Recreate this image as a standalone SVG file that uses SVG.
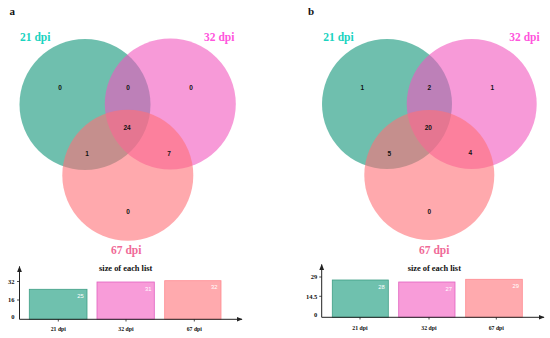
<svg xmlns="http://www.w3.org/2000/svg" width="550" height="338" viewBox="0 0 550 338">
<style>
.bg{fill:#ffffff}
.cg{fill:#0f9478;fill-opacity:0.6}
.cp{fill:#f257be;fill-opacity:0.6}
.cs{fill:#ff6f76;fill-opacity:0.6}
.num{font-family:"Liberation Sans",Arial,sans-serif;font-size:6.5px;font-weight:bold;fill:#111;text-anchor:middle}
.lab{font-family:"Liberation Serif","Times New Roman",serif;font-size:11.5px;font-weight:bold}
.lg{fill:#1ad3bf}
.lp{fill:#ff55dd}
.ls{fill:#f06a98}
.panel{font-family:"Liberation Serif","Times New Roman",serif;font-size:11px;font-weight:bold;fill:#111}
.title{font-family:"Liberation Serif","Times New Roman",serif;font-size:8.4px;font-weight:bold;fill:#111;text-anchor:middle}
.tick{font-family:"Liberation Serif","Times New Roman",serif;font-size:6.5px;font-weight:bold;fill:#111;text-anchor:end}
.xl{font-family:"Liberation Serif","Times New Roman",serif;font-size:5.8px;font-weight:bold;fill:#111;text-anchor:middle}
.val{font-family:"Liberation Sans",Arial,sans-serif;font-size:5.8px;fill:#ffffff;text-anchor:end}
.axis{stroke:#222;stroke-width:1;fill:none}
.tk{stroke:#222;stroke-width:0.8}
.bg1{fill:#6fc1ae;stroke:#3f9e85;stroke-width:0.8}
.bp1{fill:#f89cd9;stroke:#e062c0;stroke-width:0.8}
.bs1{fill:#ffaaae;stroke:#ff8a90;stroke-width:0.8}
</style>
<defs>
<marker id="arr" viewBox="0 0 10 10" refX="9" refY="5" markerWidth="6" markerHeight="6" markerUnits="userSpaceOnUse" orient="auto">
<path d="M0,1 L10,5 L0,9 Z" fill="#222"/>
</marker>
</defs>
<rect class="bg" x="0" y="0" width="550" height="338"/>

<g id="panel-a">
<text class="panel" x="9.5" y="14.5">a</text>
<g id="venn-a">
<circle id="a-21" class="cg" cx="85" cy="104.5" r="65.5"/>
<circle id="a-32" class="cp" cx="170.3" cy="104" r="65.5"/>
<circle id="a-67" class="cs" cx="127.8" cy="175.3" r="65.5"/>
<text class="num" x="60" y="90.3">0</text>
<text class="num" x="128" y="90.3">0</text>
<text class="num" x="191" y="90.3">0</text>
<text class="num" x="127" y="130.3">24</text>
<text class="num" x="87" y="156.3">1</text>
<text class="num" x="169" y="156.3">7</text>
<text class="num" x="128" y="214.3">0</text>
<text class="lab lg" x="20" y="41">21 dpi</text>
<text class="lab lp" x="204" y="41">32 dpi</text>
<text class="lab ls" x="111" y="254">67 dpi</text>
</g>
<g id="bars-a">
<text class="title" x="125.7" y="271">size of each list</text>
<rect class="bg1" x="29.3" y="289.3" width="57.7" height="30"/>
<rect class="bp1" x="97" y="282" width="57.3" height="37.3"/>
<rect class="bs1" x="164.7" y="280.7" width="56.3" height="38.6"/>
<text class="val" x="83.7" y="297.5">25</text>
<text class="val" x="151.5" y="290.7">31</text>
<text class="val" x="217.5" y="289.3">32</text>
<g id="axes-a">
<line class="axis" x1="19.5" y1="319.3" x2="19.5" y2="266.5" marker-end="url(#arr)"/>
<line class="axis" x1="19.5" y1="319.3" x2="242" y2="319.3" marker-end="url(#arr)"/>
<line class="tk" x1="17" y1="281.5" x2="19.5" y2="281.5"/>
<line class="tk" x1="17" y1="300" x2="19.5" y2="300"/>
<line class="tk" x1="58.3" y1="319.3" x2="58.3" y2="321.5"/>
<line class="tk" x1="126" y1="319.3" x2="126" y2="321.5"/>
<line class="tk" x1="194.3" y1="319.3" x2="194.3" y2="321.5"/>
</g>
<text class="tick" x="14.5" y="283.8">32</text>
<text class="tick" x="14.5" y="302">16</text>
<text class="tick" x="14.5" y="319">0</text>
<text class="xl" x="58.3" y="331.3">21 dpi</text>
<text class="xl" x="126" y="331.3">32 dpi</text>
<text class="xl" x="194.3" y="331.3">67 dpi</text>
</g>
</g>

<g id="panel-b">
<text class="panel" x="308" y="14.5">b</text>
<g id="venn-b">
<circle id="b-21" class="cg" cx="387" cy="104" r="65"/>
<circle id="b-32" class="cp" cx="471.7" cy="104" r="65"/>
<circle id="b-67" class="cs" cx="429.3" cy="175" r="65"/>
<text class="num" x="362.3" y="89.6">1</text>
<text class="num" x="429.3" y="89.6">2</text>
<text class="num" x="492.3" y="89.6">1</text>
<text class="num" x="428.3" y="130.3">20</text>
<text class="num" x="389.3" y="155.6">5</text>
<text class="num" x="470.3" y="155">4</text>
<text class="num" x="429.3" y="214">0</text>
<text class="lab lg" x="323.3" y="41">21 dpi</text>
<text class="lab lp" x="509.3" y="41">32 dpi</text>
<text class="lab ls" x="419" y="254">67 dpi</text>
</g>
<g id="bars-b">
<text class="title" x="434.3" y="270.7">size of each list</text>
<rect class="bg1" x="332.3" y="280" width="56" height="37.3"/>
<rect class="bp1" x="398.7" y="282" width="56.3" height="35.3"/>
<rect class="bs1" x="465.7" y="279.3" width="56.6" height="38"/>
<text class="val" x="384.8" y="288.9">28</text>
<text class="val" x="452" y="290.5">27</text>
<text class="val" x="519" y="288">29</text>
<g id="axes-b">
<line class="axis" x1="321.7" y1="317.3" x2="321.7" y2="264.5" marker-end="url(#arr)"/>
<line class="axis" x1="321.7" y1="317.3" x2="544" y2="317.3" marker-end="url(#arr)"/>
<line class="tk" x1="319.2" y1="277" x2="321.7" y2="277"/>
<line class="tk" x1="319.2" y1="296.3" x2="321.7" y2="296.3"/>
<line class="tk" x1="360" y1="317.3" x2="360" y2="319.5"/>
<line class="tk" x1="429" y1="317.3" x2="429" y2="319.5"/>
<line class="tk" x1="496.3" y1="317.3" x2="496.3" y2="319.5"/>
</g>
<text class="tick" x="317.3" y="279.3">29</text>
<text class="tick" x="317.3" y="298.6">14.5</text>
<text class="tick" x="317.3" y="317">0</text>
<text class="xl" x="360" y="329.7">21 dpi</text>
<text class="xl" x="429" y="329.7">32 dpi</text>
<text class="xl" x="496.3" y="329.7">67 dpi</text>
</g>
</g>
</svg>
